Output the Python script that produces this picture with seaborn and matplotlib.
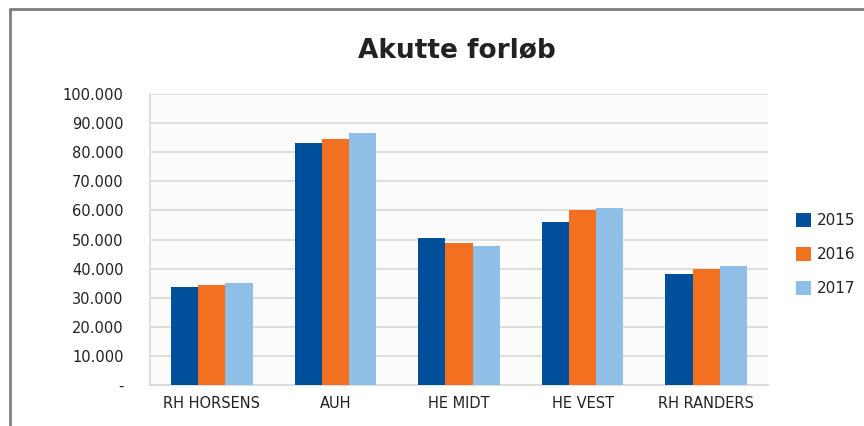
import matplotlib
matplotlib.use("Agg")
import matplotlib.pyplot as plt
import matplotlib.ticker as mticker
import seaborn as sns
import pandas as pd

# Data
categories = ["RH HORSENS", "AUH", "HE MIDT", "HE VEST", "RH RANDERS"]
years = ["2015", "2016", "2017"]
values_2015 = [33700, 83200, 50500, 56000, 38100]
values_2016 = [34400, 84500, 48800, 60100, 39900]
values_2017 = [35100, 86600, 47800, 60800, 40900]
colors = ["#004F9A", "#F37021", "#8FBFE6"]

df = pd.DataFrame({
    "enhed": categories * 3,
    "aar": [y for y in years for _ in categories],
    "antal": values_2015 + values_2016 + values_2017,
})

sns.set_style("white")
plt.rcParams["font.family"] = ["DejaVu Sans"]

fig = plt.figure(figsize=(8.64, 4.26), dpi=100)
ax = fig.add_axes([150 / 864, 1 - 385 / 426, 618 / 864, 291 / 426])
ax.set_facecolor("#FCFCFC")

sns.barplot(data=df, x="enhed", y="antal", hue="aar", palette=colors,
            width=0.66, saturation=1, linewidth=0, edgecolor="none",
            ax=ax, zorder=3)

ax.set_ylim(0, 100000)
ax.set_yticks(range(0, 100001, 10000))

def fmt(v, pos):
    if v == 0:
        return "-"
    return f"{int(v):,}".replace(",", ".")

ax.yaxis.set_major_formatter(mticker.FuncFormatter(fmt))
ax.grid(axis="y", color="#D9D9D9", linewidth=1.2, zorder=0)
ax.set_axisbelow(True)
for side in ["top", "right"]:
    ax.spines[side].set_visible(False)
ax.spines["left"].set_color("#D9D9D9")
ax.spines["bottom"].set_color("#D9D9D9")
ax.spines["left"].set_linewidth(1.2)
ax.spines["bottom"].set_linewidth(1.2)
ax.tick_params(axis="y", labelsize=10.5, pad=19, length=0, colors="#222222")
ax.tick_params(axis="x", labelsize=10.5, pad=8, length=0, colors="#222222")
ax.set_xlabel("")
ax.set_ylabel("")

fig.text(457 / 864, 1 - 50 / 426, "Akutte forløb", ha="center", va="center",
         fontsize=19, fontweight="bold", color="#222222")

leg = ax.legend(loc="center left", bbox_to_anchor=(1.035, 0.448), frameon=False,
                borderaxespad=0, fontsize=11, handlelength=1.0, handleheight=1.0,
                labelspacing=1.25, handletextpad=0.4)
for t in leg.get_texts():
    t.set_color("#222222")

# Gray outer frame, cropped at right and bottom
fig.add_artist(plt.Line2D([10 / 864, 10 / 864], [0, 1 - 9 / 426],
                          color="#7F7F7F", linewidth=2, transform=fig.transFigure))
fig.add_artist(plt.Line2D([10 / 864, 1], [1 - 9 / 426, 1 - 9 / 426],
                          color="#7F7F7F", linewidth=2, transform=fig.transFigure))

fig.savefig("out.png", dpi=100)
plt.close(fig)
